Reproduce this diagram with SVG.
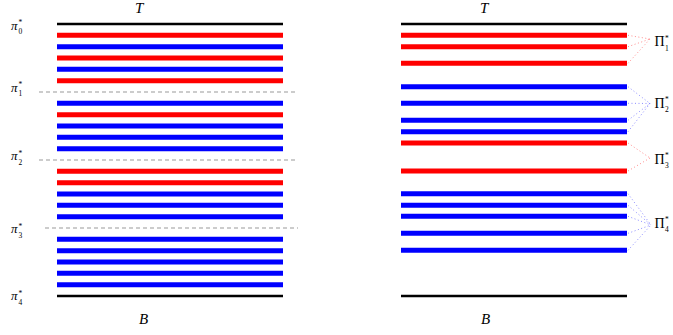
<svg xmlns="http://www.w3.org/2000/svg" width="673" height="335" viewBox="0 0 673 335">
<style>
.red{stroke:#ff0000;stroke-width:5}
.blue{stroke:#0000ff;stroke-width:5}
.blk{stroke:#000;stroke-width:2.5}
.dash{stroke:#999;stroke-width:1;stroke-dasharray:4 3}
.dr{stroke:#ff8080;stroke-width:0.9;stroke-dasharray:1 2.5;fill:none}
.db{stroke:#8080ff;stroke-width:0.9;stroke-dasharray:1 2.5;fill:none}
text{font-family:"Liberation Serif","Times New Roman",serif;fill:#000;font-weight:normal}
.it{font-style:italic}
.lab{font-size:15px}
.cap{font-size:14px}
.pi{font-size:13px;font-style:italic}
.sm{font-size:7.5px}
</style>
<rect width="673" height="335" fill="#fff"/>
<g id="left-panel">
<g id="left-bounds">
<line class="blk" x1="57" y1="24" x2="283" y2="24"/>
<line class="blk" x1="57" y1="296" x2="283" y2="296"/>
<text class="lab it" x="135" y="12.5">T</text>
<text class="lab it" x="139" y="324">B</text>
</g>
<g id="left-stripes">
<line class="red" x1="57" y1="35.3" x2="283" y2="35.3"/>
<line class="blue" x1="57" y1="46.7" x2="283" y2="46.7"/>
<line class="red" x1="57" y1="58" x2="283" y2="58"/>
<line class="blue" x1="57" y1="69.3" x2="283" y2="69.3"/>
<line class="red" x1="57" y1="80.7" x2="283" y2="80.7"/>
<line class="blue" x1="57" y1="103.3" x2="283" y2="103.3"/>
<line class="red" x1="57" y1="114.7" x2="283" y2="114.7"/>
<line class="blue" x1="57" y1="126" x2="283" y2="126"/>
<line class="blue" x1="57" y1="137.3" x2="283" y2="137.3"/>
<line class="blue" x1="57" y1="148.7" x2="283" y2="148.7"/>
<line class="red" x1="57" y1="171.3" x2="283" y2="171.3"/>
<line class="red" x1="57" y1="182.7" x2="283" y2="182.7"/>
<line class="blue" x1="57" y1="194" x2="283" y2="194"/>
<line class="blue" x1="57" y1="205.3" x2="283" y2="205.3"/>
<line class="blue" x1="57" y1="216.7" x2="283" y2="216.7"/>
<line class="blue" x1="57" y1="239.3" x2="283" y2="239.3"/>
<line class="blue" x1="57" y1="250.7" x2="283" y2="250.7"/>
<line class="blue" x1="57" y1="262" x2="283" y2="262"/>
<line class="blue" x1="57" y1="273.3" x2="283" y2="273.3"/>
<line class="blue" x1="57" y1="284.7" x2="283" y2="284.7"/>
</g>
<g id="left-cuts">
<line class="dash" x1="39" y1="92" x2="298" y2="92"/>
<line class="dash" x1="39" y1="160" x2="298" y2="160"/>
<line class="dash" x1="45" y1="228" x2="298" y2="228"/>
</g>
<g id="pi-labels">
<text class="pi" x="11" y="29.5">π</text><text class="sm" x="18.5" y="25">*</text><text class="sm" x="18.5" y="34">0</text>
<text class="pi" x="11" y="91.5">π</text><text class="sm" x="18.5" y="87">*</text><text class="sm" x="18.5" y="96">1</text>
<text class="pi" x="11" y="160">π</text><text class="sm" x="18.5" y="155.5">*</text><text class="sm" x="18.5" y="164.5">2</text>
<text class="pi" x="11" y="233">π</text><text class="sm" x="18.5" y="228.5">*</text><text class="sm" x="18.5" y="237.5">3</text>
<text class="pi" x="11" y="300">π</text><text class="sm" x="18.5" y="295.5">*</text><text class="sm" x="18.5" y="304.5">4</text>
</g>
</g>
<g id="right-panel">
<g id="right-bounds">
<line class="blk" x1="401" y1="24" x2="627" y2="24"/>
<line class="blk" x1="401" y1="296" x2="627" y2="296"/>
<text class="lab it" x="480" y="12.5">T</text>
<text class="lab it" x="481" y="324">B</text>
</g>
<g id="right-stripes">
<line class="red" x1="401" y1="35.3" x2="627" y2="35.3"/>
<line class="red" x1="401" y1="46.7" x2="627" y2="46.7"/>
<line class="red" x1="401" y1="63.3" x2="627" y2="63.3"/>
<line class="blue" x1="401" y1="86.7" x2="627" y2="86.7"/>
<line class="blue" x1="401" y1="103.3" x2="627" y2="103.3"/>
<line class="blue" x1="401" y1="120.3" x2="627" y2="120.3"/>
<line class="blue" x1="401" y1="131.7" x2="627" y2="131.7"/>
<line class="red" x1="401" y1="143" x2="627" y2="143"/>
<line class="red" x1="401" y1="171" x2="627" y2="171"/>
<line class="blue" x1="401" y1="193.7" x2="627" y2="193.7"/>
<line class="blue" x1="401" y1="205.3" x2="627" y2="205.3"/>
<line class="blue" x1="401" y1="216.3" x2="627" y2="216.3"/>
<line class="blue" x1="401" y1="233.3" x2="627" y2="233.3"/>
<line class="blue" x1="401" y1="250.3" x2="627" y2="250.3"/>
</g>
<g id="connectors">
<path class="dr" d="M628,35.3L650,39M628,46.7L650,39M628,63.3L650,39"/>
<path class="db" d="M628,86.7L650,103.5M628,103.3L650,103.5M628,120.3L650,103.5M628,131.7L650,103.5"/>
<path class="dr" d="M628,143L650,158M628,171L650,158"/>
<path class="db" d="M628,193.7L651,225M628,205.3L651,225M628,216.3L651,225M628,233.3L651,225M628,250.3L651,225"/>
</g>
<g id="Pi1"><text class="cap" x="654.5" y="46">Π</text><text class="sm" x="665" y="40.5">*</text><text class="sm" x="665" y="50.5">1</text></g>
<g id="Pi2"><text class="cap" x="654.5" y="107.5">Π</text><text class="sm" x="665" y="102">*</text><text class="sm" x="665" y="112">2</text></g>
<g id="Pi3"><text class="cap" x="654.5" y="163.5">Π</text><text class="sm" x="665" y="158">*</text><text class="sm" x="665" y="168">3</text></g>
<g id="Pi4"><text class="cap" x="654.5" y="227.5">Π</text><text class="sm" x="665" y="222">*</text><text class="sm" x="665" y="232">4</text></g>
</g>
</svg>
